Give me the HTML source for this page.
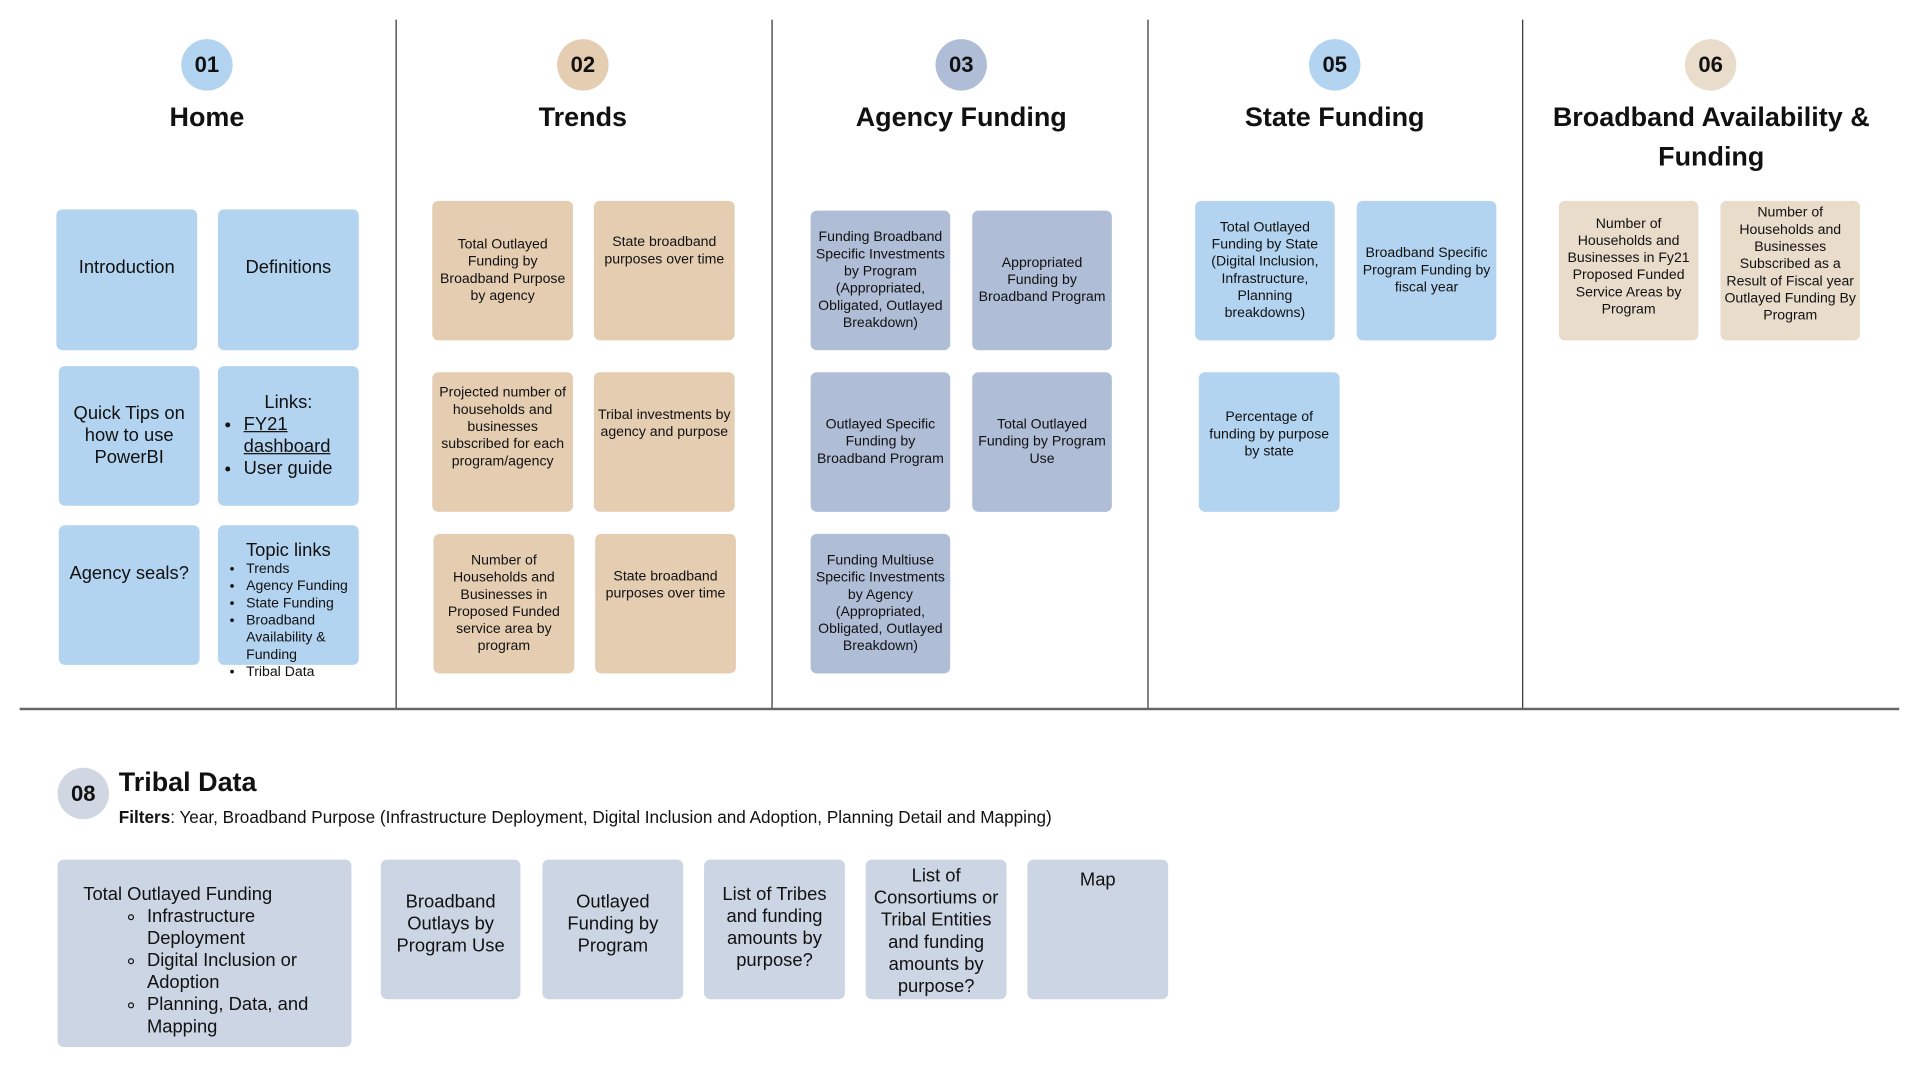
<!DOCTYPE html>
<html><head><meta charset="utf-8"><style>
html,body{margin:0;padding:0;background:#fff;width:1920px;height:1080px;overflow:hidden}
#w{position:absolute;left:0;top:0;width:1568px;height:882px;transform:scale(1.2245);transform-origin:0 0;font-family:"Liberation Sans",sans-serif;color:#111}
.b{position:absolute;border-radius:5px;display:flex;flex-direction:column;align-items:center;text-align:center;box-sizing:border-box;padding:0 3px}
.s{font-size:11.5px;line-height:14px;justify-content:center}
.bl{background:#b3d4f0}.tn{background:#e5cdb2}.sl{background:#b0bdd6}.cr{background:#e9dccb}.tb{background:#ccd5e3}
.c{position:absolute;width:42px;height:42px;border-radius:50%;font-size:18px;font-weight:bold;display:flex;align-items:center;justify-content:center;color:#111}
.t{position:absolute;font-size:22px;font-weight:bold;text-align:center;line-height:32px}
.vl{position:absolute;top:16px;width:1px;height:563px;background:#333}
.h{font-size:15px;line-height:18px}
ul{margin:0;padding-left:18px;text-align:left}
</style></head><body><div id="w">
<div class="vl" style="left:323px"></div><div class="vl" style="left:630px"></div><div class="vl" style="left:937px"></div><div class="vl" style="left:1243px"></div>
<div style="position:absolute;left:16px;top:578px;width:1535px;height:2px;background:#666"></div>

<div class="c" style="left:148px;top:32px;background:#b3d4f0">01</div>
<div class="c" style="left:455px;top:32px;background:#e5cdb2">02</div>
<div class="c" style="left:764px;top:32px;background:#b0bdd6">03</div>
<div class="c" style="left:1069px;top:32px;background:#b3d4f0">05</div>
<div class="c" style="left:1376px;top:32px;background:#e9dccb">06</div>
<div class="t" style="left:69px;width:200px;top:80px">Home</div>
<div class="t" style="left:376px;width:200px;top:80px">Trends</div>
<div class="t" style="left:665px;width:240px;top:80px">Agency Funding</div>
<div class="t" style="left:970px;width:240px;top:80px">State Funding</div>
<div class="t" style="left:1250px;width:295px;top:80px">Broadband Availability &amp;<br>Funding</div>

<div class="b bl h" style="left:46px;top:171px;width:115px;height:115px;padding-top:39px">Introduction</div>
<div class="b bl h" style="left:178px;top:171px;width:115px;height:115px;padding-top:39px">Definitions</div>
<div class="b bl h s" style="left:48px;top:299px;width:115px;height:114px;font-size:15px;line-height:18px">Quick Tips on how to use PowerBI</div>
<div class="b bl h s" style="left:178px;top:299px;width:115px;height:114px;font-size:15px;line-height:18px"><div>Links:</div><ul><li><u>FY21 dashboard</u></li><li>User guide</li></ul></div>
<div class="b bl h" style="left:48px;top:429px;width:115px;height:114px;padding-top:31px">Agency seals?</div>
<div class="b bl" style="left:178px;top:429px;width:115px;height:114px;padding-top:12px;align-items:flex-start;overflow:visible"><div style="font-size:15px;width:109px;text-align:center">Topic links</div><ul style="font-size:11.5px;line-height:14px;padding-left:20px"><li>Trends</li><li>Agency Funding</li><li>State Funding</li><li>Broadband Availability &amp; Funding</li><li>Tribal Data</li></ul></div>

<div class="b tn s" style="left:353px;top:164px;width:115px;height:114px">Total Outlayed Funding by Broadband Purpose by agency</div>
<div class="b tn s" style="left:485px;top:164px;width:115px;height:114px;justify-content:flex-start;padding-top:27px">State broadband purposes over time</div>
<div class="b tn s" style="left:353px;top:304px;width:115px;height:114px;justify-content:flex-start;padding-top:10px">Projected number of households and businesses subscribed for each program/agency</div>
<div class="b tn s" style="left:485px;top:304px;width:115px;height:114px;justify-content:flex-start;padding-top:28px">Tribal investments by agency and purpose</div>
<div class="b tn s" style="left:354px;top:436px;width:115px;height:114px">Number of Households and Businesses in Proposed Funded service area by program</div>
<div class="b tn s" style="left:486px;top:436px;width:115px;height:114px;justify-content:flex-start;padding-top:28px">State broadband purposes over time</div>

<div class="b sl s" style="left:662px;top:172px;width:114px;height:114px">Funding Broadband Specific Investments by Program (Appropriated, Obligated, Outlayed Breakdown)</div>
<div class="b sl s" style="left:794px;top:172px;width:114px;height:114px">Appropriated Funding by Broadband Program</div>
<div class="b sl s" style="left:662px;top:304px;width:114px;height:114px">Outlayed Specific Funding by Broadband Program</div>
<div class="b sl s" style="left:794px;top:304px;width:114px;height:114px">Total Outlayed Funding by Program Use</div>
<div class="b sl s" style="left:662px;top:436px;width:114px;height:114px">Funding Multiuse Specific Investments by Agency (Appropriated, Obligated, Outlayed Breakdown)</div>

<div class="b bl s" style="left:976px;top:164px;width:114px;height:114px">Total Outlayed Funding by State (Digital Inclusion, Infrastructure, Planning breakdowns)</div>
<div class="b bl s" style="left:1108px;top:164px;width:114px;height:114px">Broadband Specific Program Funding by fiscal year</div>
<div class="b bl s" style="left:979px;top:304px;width:115px;height:114px;justify-content:flex-start;padding-top:30px">Percentage of funding by purpose by state</div>

<div class="b cr s" style="left:1273px;top:164px;width:114px;height:114px;justify-content:flex-start;padding-top:12px">Number of Households and Businesses in Fy21 Proposed Funded Service Areas by Program</div>
<div class="b cr s" style="left:1405px;top:164px;width:114px;height:114px;justify-content:flex-start;padding-top:3px">Number of Households and Businesses Subscribed as a Result of Fiscal year Outlayed Funding By Program</div>

<div class="c" style="left:47px;top:627px;background:#d0d7e3">08</div>
<div style="position:absolute;left:97px;top:626px;font-size:22px;font-weight:bold">Tribal Data</div>
<div style="position:absolute;left:97px;top:659px;font-size:14px"><b>Filters</b>: Year, Broadband Purpose (Infrastructure Deployment, Digital Inclusion and Adoption, Planning Detail and Mapping)</div>

<div class="b tb h" style="left:47px;top:702px;width:240px;height:153px;align-items:flex-start;padding:20px 0 0 21px;text-align:left"><div>Total Outlayed Funding</div><ul style="padding-left:52px;list-style:circle"><li>Infrastructure Deployment</li><li>Digital Inclusion or Adoption</li><li>Planning, Data, and Mapping</li></ul></div>
<div class="b tb h" style="left:311px;top:702px;width:114px;height:114px;padding-top:26px">Broadband Outlays by Program Use</div>
<div class="b tb h" style="left:443px;top:702px;width:115px;height:114px;padding-top:26px">Outlayed Funding by Program</div>
<div class="b tb h" style="left:575px;top:702px;width:115px;height:114px;padding-top:20px">List of Tribes and funding amounts by purpose?</div>
<div class="b tb h" style="left:707px;top:702px;width:115px;height:114px;padding-top:5px">List of Consortiums or Tribal Entities and funding amounts by purpose?</div>
<div class="b tb h" style="left:839px;top:702px;width:115px;height:114px;padding-top:8px">Map</div>
</div></body></html>
